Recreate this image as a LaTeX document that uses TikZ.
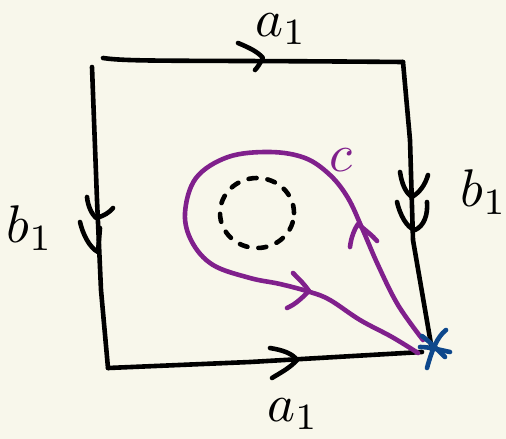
\documentclass[tikz,border=0pt]{standalone}
\usepackage{xcolor}
\definecolor{paper}{RGB}{248,247,235}
\definecolor{loopc}{RGB}{128,32,140}
\definecolor{basept}{RGB}{14,72,140}
\newcommand{\biglab}[1]{\scalebox{5.3}{$#1$}}
\begin{document}
\begin{tikzpicture}[x=1pt,y=-1pt,
  edge/.style={line width=4.6pt,line cap=round,line join=round,black},
  chev/.style={line width=4.6pt,line cap=round,line join=round},
  curvec/.style={line width=4.6pt,line cap=round,line join=round,loopc},
  lab/.style={inner sep=0pt},
  holec/.style={line width=4.6pt,line cap=round,dash pattern=on 8pt off 11pt}]
\fill[paper] (0,0) rectangle (506,439);
\useasboundingbox (0,0) rectangle (506,439);
% corners
\coordinate (tl) at (103,58);
\coordinate (tlL) at (92,67);
\coordinate (tr) at (403,62);
\coordinate (br) at (432,350);
\coordinate (brB) at (422,352);
\coordinate (bl) at (108,368);
% square edges
\draw[edge] (tl) .. controls (130,62) and (180,60) .. (tr);
\draw[edge] (tr) -- (410,140) -- (413,240) -- (br);
\draw[edge] (tlL) -- (97,200) -- (101,290) -- (bl);
\draw[edge] (bl) -- (250,362) -- (brB);
% arrows on edges
\draw[chev] (238,43) .. controls (250,48) and (258,52) .. (263,58) .. controls (260,63) and (258,67) .. (255,70);
\draw[chev] (270,348) .. controls (282,350) and (292,353) .. (297,360) .. controls (290,368) and (280,373) .. (272,378);
\draw[chev] (87,197) .. controls (88,207) and (92,214) .. (96,218) .. controls (104,216) and (110,212) .. (113,208);
\draw[chev] (80,222) .. controls (83,235) and (90,248) .. (98,252) -- (100,228);
\draw[chev] (400,172) .. controls (402,185) and (406,193) .. (412,197) .. controls (420,192) and (425,185) .. (428,175);
\draw[chev] (397,202) .. controls (400,215) and (407,228) .. (415,230) .. controls (424,226) and (428,215) .. (427,202);
% labels
\node[lab] (a1top) at (281,29) {\biglab{a_1}};
\node[lab] (a1bot) at (293,414) {\biglab{a_1}};
\node[lab] (b1left) at (30,228) {\biglab{b_1}};
\node[lab] (b1right) at (484,192) {\biglab{b_1}};
\node[lab,text=loopc] (clab) at (341,160) {\biglab{c}};
% hole
\draw[holec] (257,213) ellipse [x radius=37pt, y radius=35pt];
% base point
\coordinate (p) at (433,348);
% loop c
\draw[curvec] (418,353) plot[smooth,tension=0.6] coordinates {(418,353) (392,337) (360,320) (330,300) (310,292) (280,284) (250,278) (213,265) (192,242) (185,213) (196,178) (228,157) (270,152) (305,158) (330,175) (348,198) (362,228) (378,265) (398,305) (423,340)};
% arrows on c
\draw[chev,loopc] (293,273) .. controls (300,280) and (305,285) .. (309,291) .. controls (300,300) and (294,305) .. (287,308);
\draw[chev,loopc] (350,247) .. controls (351,238) and (354,230) .. (358,224) .. controls (365,230) and (372,235) .. (377,241);
% base point star
\draw[chev,basept] (422,336) .. controls (430,342) and (438,350) .. (445,357);
\draw[chev,basept] (446,330) .. controls (437,337) and (432,350) .. (427,368);
\draw[chev,basept] (420,347) .. controls (430,347) and (440,350) .. (450,352);
\end{tikzpicture}
\end{document}
